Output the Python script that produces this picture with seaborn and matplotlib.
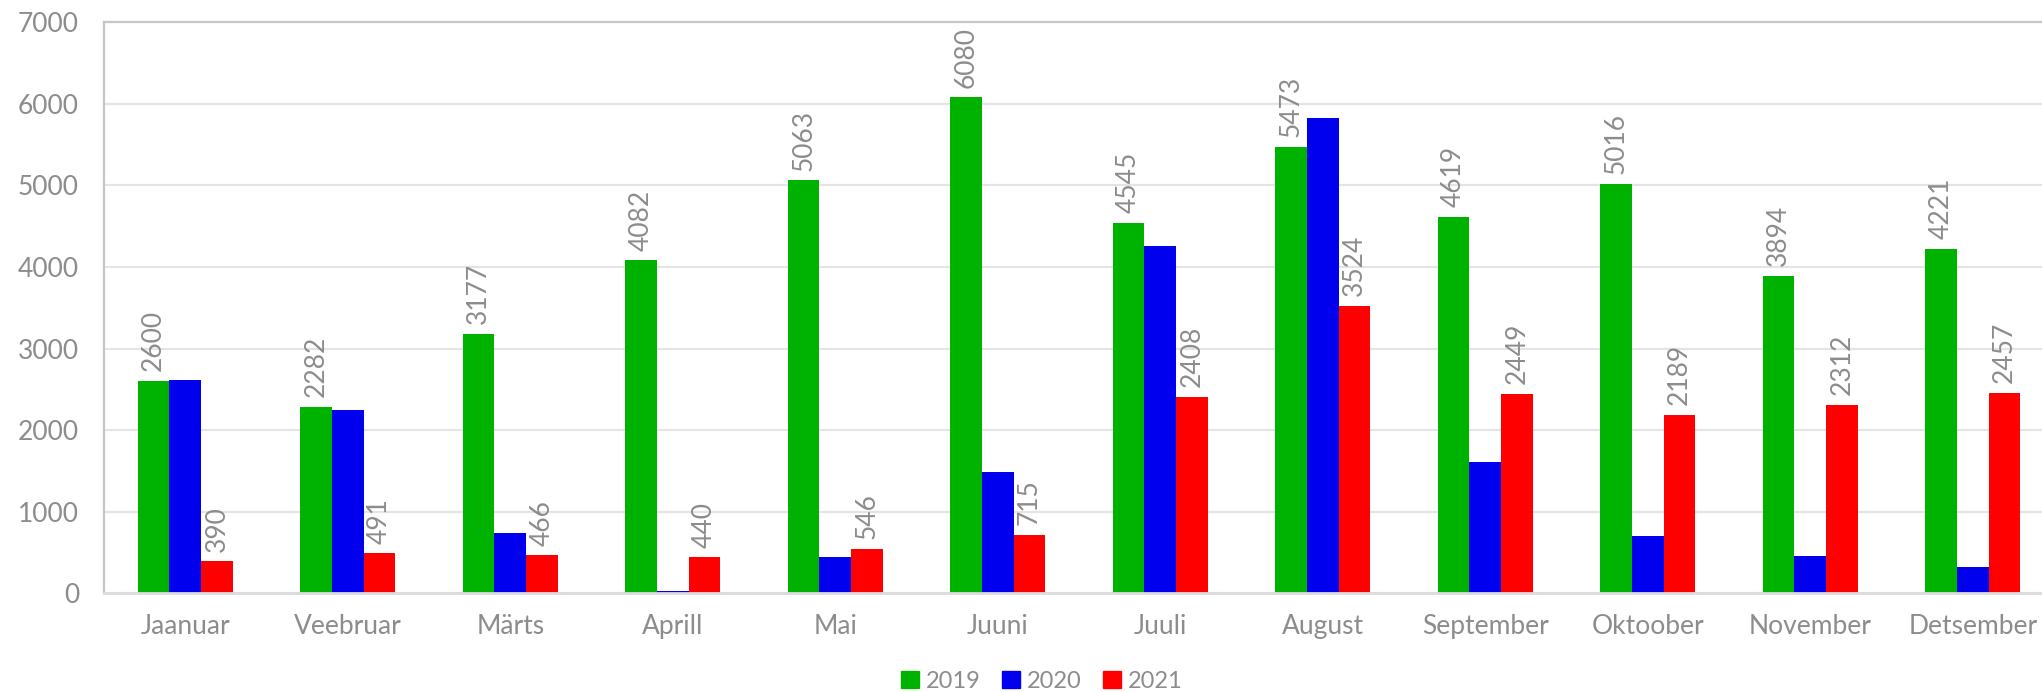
import matplotlib
matplotlib.use("Agg")
import matplotlib.pyplot as plt
import matplotlib.patches as mpatches
import numpy as np
import pandas as pd
import seaborn as sns

sns.set_style("white")
plt.rcParams["font.family"] = ["Lato", "DejaVu Sans"]

months = ["Jaanuar", "Veebruar", "Märts", "Aprill", "Mai", "Juuni",
          "Juuli", "August", "September", "Oktoober", "November", "Detsember"]
years = ["2019", "2020", "2021"]
v2019 = [2600, 2282, 3177, 4082, 5063, 6080, 4545, 5473, 4619, 5016, 3894, 4221]
# 2020 has no labels on the chart
v2020 = [2620, 2250, 745, 25, 446, 1488, 4261, 5830, 1614, 699, 462, 327]
v2021 = [390, 491, 466, 440, 546, 715, 2408, 3524, 2449, 2189, 2312, 2457]
colors = {"2019": "#00b200", "2020": "#0000ee", "2021": "#ff0000"}

GREY = "#8c8c8c"
FS = 19

df = pd.DataFrame({
    "month": months * 3,
    "year": [y for y in years for _ in months],
    "value": v2019 + v2020 + v2021,
})

fig = plt.figure(figsize=(20.42, 6.92), dpi=100)
ax = fig.add_axes([104 / 2042, 98.7 / 692, 1950 / 2042, 571 / 692])

sns.barplot(data=df, x="month", y="value", hue="year", palette=colors,
            order=months, hue_order=years, width=0.585, gap=0,
            linewidth=0, saturation=1, errorbar=None, legend=False, ax=ax)

# value labels only for 2019 and 2021
for i in (0, 2):
    ax.bar_label(ax.containers[i], labels=[str(v) for v in (v2019 if i == 0 else v2021)],
                 rotation=90, padding=7, fontsize=FS, color=GREY)

ax.set_ylim(0, 7000)
ax.set_yticks(np.arange(0, 7001, 1000))
ax.set_xlim(-0.5, 11.5)
ax.set_xlabel("")
ax.set_ylabel("")
ax.yaxis.grid(True, color="#e4e4e4", linewidth=1.6)
ax.set_axisbelow(True)
ax.tick_params(axis="y", length=0, pad=18, labelsize=FS, labelcolor=GREY)
ax.tick_params(axis="x", length=0, pad=15, labelsize=FS, labelcolor=GREY)

for side in ("left", "top"):
    ax.spines[side].set_color("#c6c6c6")
    ax.spines[side].set_linewidth(1.6)
ax.spines["bottom"].set_color("#dcdcdc")
ax.spines["bottom"].set_linewidth(2)
ax.spines["right"].set_visible(False)

handles = [mpatches.Patch(color=colors[y], label=y) for y in years]
fig.legend(handles=handles, loc="center", bbox_to_anchor=(1042 / 2042, 1 - 681 / 692),
           ncol=3, frameon=False, fontsize=17, labelcolor=GREY,
           handlelength=0.75, handleheight=0.75, handletextpad=0.3, columnspacing=0.9)

fig.savefig("out.png", dpi=100)
plt.close(fig)
